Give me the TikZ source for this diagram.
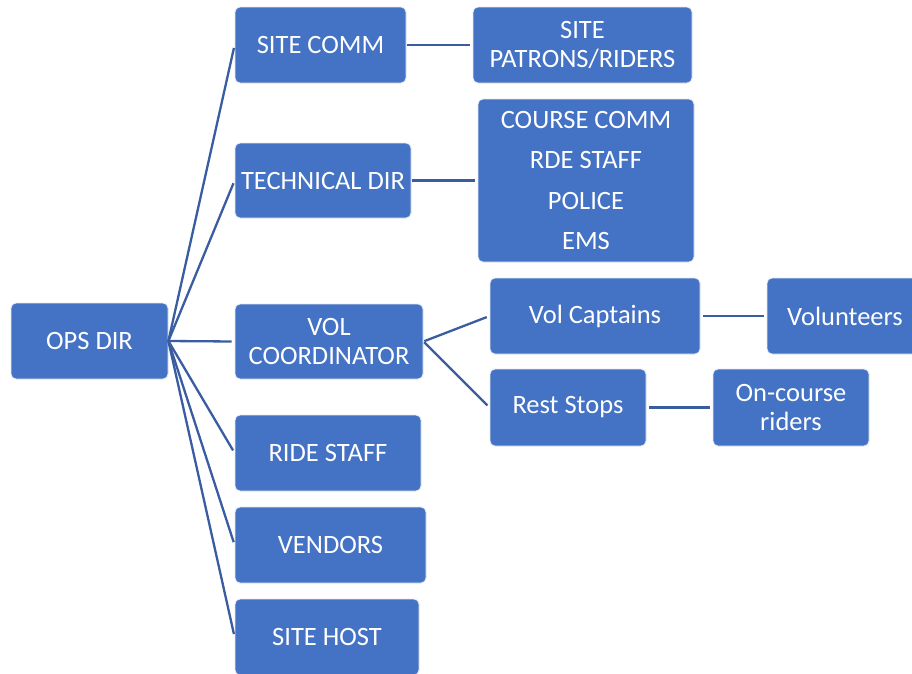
\documentclass[tikz,border=0pt]{standalone}
\usepackage{fontspec}
\setmainfont{Carlito}
\definecolor{boxblue}{HTML}{4472C4}
\definecolor{linkblue}{HTML}{3A5CA0}
\begin{document}
\begin{tikzpicture}[x=1pt,y=-1pt,
  box/.style={draw=white!85!boxblue, line width=0.8pt, fill=boxblue, rounded corners=5pt,
    text=white, align=center, inner sep=0pt,
    font=\fontsize{26.5pt}{28.5pt}\selectfont},
  link/.style={draw=linkblue, line width=2.3pt, shorten >=3pt}]
\clip (0,0) rectangle (912,673);
\fill[white] (0,0) rectangle (912,673);
\node[box, minimum width=157pt, minimum height=76pt] (ops) at (89.5,341) {OPS DIR};
\node[box, minimum width=171pt, minimum height=76pt] (sitecomm) at (320.5,45) {SITE COMM};
\node[box, minimum width=219pt, minimum height=76pt] (patrons) at (582.5,45) {SITE\\PATRONS/RIDERS};
\node[box, minimum width=176pt, minimum height=75pt] (tech) at (323,180.5) {TECHNICAL DIR};
\node[box, minimum width=216pt, minimum height=163pt, font=\fontsize{26.5pt}{40.5pt}\selectfont] (course) at (586,180.5) {COURSE COMM\\RDE STAFF\\POLICE\\EMS};
\node[box, minimum width=188pt, minimum height=75pt] (volc) at (329,341.5) {VOL\\COORDINATOR};
\node[box, minimum width=210pt, minimum height=76pt] (capt) at (595,316) {Vol Captains};
\node[box, minimum width=156pt, minimum height=76pt] (volunteers) at (845,316) {Volunteers};
\node[box, minimum width=156pt, minimum height=77pt] (rest) at (568,407.5) {Rest Stops};
\node[box, minimum width=156pt, minimum height=77pt] (oncourse) at (791,407.5) {On-course\\riders};
\node[box, minimum width=186pt, minimum height=76pt] (ride) at (328,453) {RIDE STAFF};
\node[box, minimum width=191pt, minimum height=76pt] (vendors) at (330.5,545) {VENDORS};
\node[box, minimum width=184pt, minimum height=76pt] (host) at (327,637) {SITE HOST};
\foreach \t in {sitecomm,tech,volc,ride,vendors,host}
  \draw[link] (ops.east) -- (\t.west);
\draw[link, shorten <=1pt] (sitecomm.east) -- (patrons.west);
\draw[link, shorten <=1pt] (tech.east) -- (course.west);
\draw[link, shorten <=1pt] (volc.east) -- (capt.west);
\draw[link, shorten <=1pt] (volc.east) -- (rest.west);
\draw[link, shorten <=3pt] (capt.east) -- (volunteers.west);
\draw[link, shorten <=3pt] (rest.east) -- (oncourse.west);
\end{tikzpicture}
\end{document}
